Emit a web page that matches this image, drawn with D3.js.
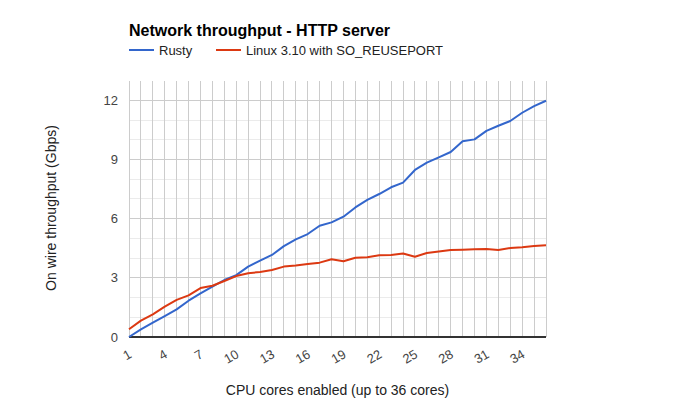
<!DOCTYPE html>
<html><head><meta charset="utf-8">
<script src="https://cdn.jsdelivr.net/npm/d3@7"></script>
<style>body{margin:0;background:#fff}text{font-family:"Liberation Sans",Arial,sans-serif}</style>
</head><body><svg id="c" width="674" height="417"></svg>
<script>
const cores = d3.range(1, 37);
const rusty = [0,0.39,0.73,1.06,1.40,1.84,2.21,2.55,2.89,3.14,3.57,3.87,4.16,4.61,4.95,5.22,5.64,5.81,6.10,6.57,6.95,7.25,7.59,7.83,8.47,8.84,9.11,9.38,9.92,10.02,10.45,10.71,10.95,11.37,11.71,11.98];
const linux = [0.39,0.83,1.15,1.54,1.88,2.11,2.48,2.60,2.84,3.09,3.23,3.30,3.40,3.57,3.62,3.70,3.77,3.94,3.84,4.02,4.04,4.14,4.16,4.23,4.07,4.26,4.34,4.41,4.43,4.45,4.46,4.41,4.51,4.55,4.61,4.65];
const seriesNames = ["Rusty", "Linux 3.10 with SO_REUSEPORT"];
const xTicks = [1,4,7,10,13,16,19,22,25,28,31,34];
const yTicks = [0,3,6,9,12];
const colors = ["#3366cc", "#dc3912"];

const svg = d3.select("#c");
const x = d3.scaleLinear().domain([1, 36]).range([129, 546]);
const y = d3.scaleLinear().domain([0, 13]).range([337, 80.6]);

// gridlines
svg.append("g").selectAll("line").data(d3.range(0, 13)).join("line")
  .attr("x1", x(1)).attr("x2", x(36)).attr("y1", d => y(d)).attr("y2", d => y(d))
  .attr("stroke", d => d % 3 === 0 ? "#cccccc" : "#ebebeb").attr("shape-rendering", "crispEdges");
svg.append("g").selectAll("line").data(cores).join("line")
  .attr("x1", d => x(d)).attr("x2", d => x(d)).attr("y1", y(13)).attr("y2", y(0))
  .attr("stroke", "#cccccc").attr("shape-rendering", "crispEdges");

// baseline
svg.append("line").attr("x1", x(1)).attr("x2", x(36)).attr("y1", y(0)).attr("y2", y(0))
  .attr("stroke", "#333").attr("stroke-width", 1.5).attr("shape-rendering", "crispEdges");

// y ticks
svg.append("g").selectAll("text").data(yTicks).join("text")
  .attr("x", 118).attr("y", d => y(d)).attr("dy", "0.35em").attr("text-anchor", "end")
  .attr("font-size", 13).attr("fill", "#444").text(d => d);

// x ticks (slanted)
svg.append("g").selectAll("text").data(xTicks).join("text")
  .attr("text-anchor", "end").attr("font-size", 13).attr("fill", "#444")
  .attr("transform", d => `translate(${x(d) - 1},${349}) rotate(-30)`)
  .attr("dy", "0.7em").text(d => d);

// lines
const line = d3.line().x((d, i) => x(cores[i])).y(d => y(d));
[rusty, linux].forEach((s, k) => {
  svg.append("path").datum(s).attr("d", line).attr("fill", "none")
    .attr("stroke", colors[k]).attr("stroke-width", 2).attr("stroke-linejoin", "round");
});

// title
svg.append("text").attr("x", 129).attr("y", 36).attr("font-size", 16).attr("font-weight", "bold")
  .attr("fill", "#000").text("Network throughput - HTTP server");

// legend
const legX = [129, 216];
seriesNames.forEach((n, k) => {
  svg.append("line").attr("x1", legX[k]).attr("x2", legX[k] + 25).attr("y1", 50).attr("y2", 50)
    .attr("stroke", colors[k]).attr("stroke-width", 2);
  svg.append("text").attr("x", legX[k] + 30).attr("y", 50).attr("dy", "0.35em")
    .attr("font-size", 13).attr("fill", "#222").text(n);
});

// axis titles
svg.append("text").attr("x", x(18.5)).attr("y", 395).attr("text-anchor", "middle")
  .attr("font-size", 14).attr("fill", "#222").text("CPU cores enabled (up to 36 cores)");
svg.append("text").attr("transform", `translate(56,${208}) rotate(-90)`).attr("text-anchor", "middle")
  .attr("font-size", 14).attr("fill", "#222").text("On wire throughput (Gbps)");
</script></body></html>
